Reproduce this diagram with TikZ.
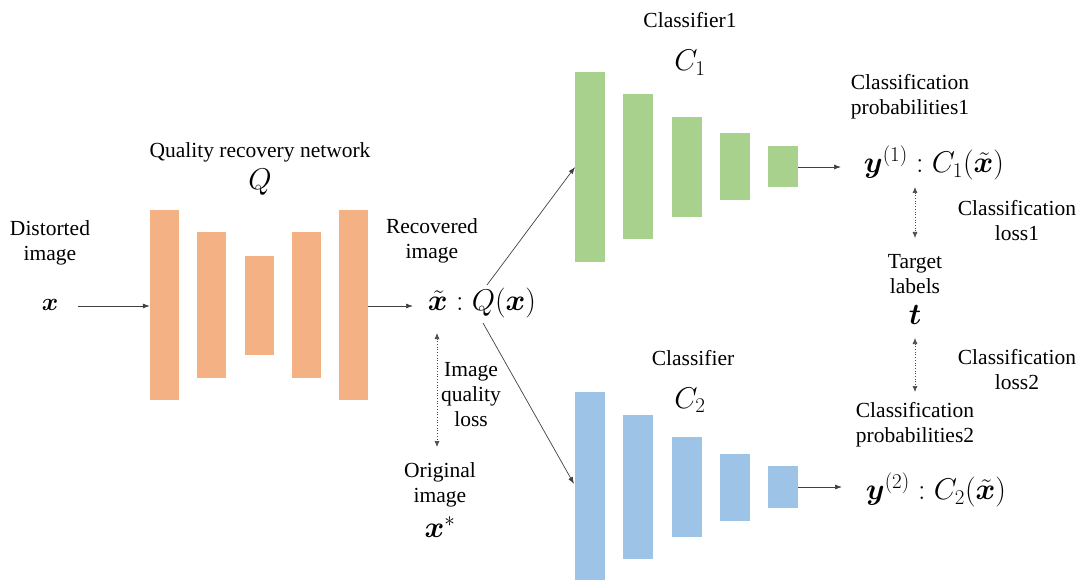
\RequirePackage{fix-cm}
\documentclass[tikz,border=0pt]{standalone}
\usepackage{amsmath}
\usepackage{bm}
\usepackage{fontspec}
\setmainfont{Liberation Serif}
\newfontfamily\tnr{Liberation Serif}
\usetikzlibrary{arrows.meta}
\definecolor{qorange}{HTML}{F4B183}
\definecolor{cgreen}{HTML}{A9D18E}
\definecolor{cblue}{HTML}{9DC3E6}
\tikzset{
  lbl/.style={align=center,inner sep=0pt,font=\tnr\fontsize{21.5}{25}\selectfont},
  mth/.style={inner sep=0pt,font=\fontsize{30}{32}\selectfont},
  qbar/.style={fill=qorange,draw=none,minimum width=29pt,inner sep=0pt},
  gbar/.style={fill=cgreen,draw=none,minimum width=30pt,inner sep=0pt},
  bbar/.style={fill=cblue,draw=none,minimum width=30pt,inner sep=0pt},
  arr/.style={-{Latex[length=7pt,width=5pt]},line width=0.7pt,draw=black!75},
  darr/.style={{Latex[length=6pt,width=5pt]}-{Latex[length=6pt,width=5pt]},line width=0.7pt,dotted,draw=black!70},
}
\begin{document}
\begin{tikzpicture}[x=1pt,y=-1pt]
\useasboundingbox (0,0) rectangle (1079,580);
% Quality recovery network bars
\node[qbar,minimum height=190pt] (q1) at (164.5,305) {};
\node[qbar,minimum height=145pt] (q2) at (211.5,305) {};
\node[qbar,minimum height=99pt]  (q3) at (259.5,305) {};
\node[qbar,minimum height=145pt] (q4) at (306.5,305) {};
\node[qbar,minimum height=190pt] (q5) at (353.5,305) {};
% Classifier 1 bars
\node[gbar,minimum height=190pt] (g1) at (590,167) {};
\node[gbar,minimum height=145pt] (g2) at (638,167) {};
\node[gbar,minimum height=100pt] (g3) at (686.5,167) {};
\node[gbar,minimum height=67pt]  (g4) at (735,167) {};
\node[gbar,minimum height=41pt]  (g5) at (783,167) {};
% Classifier 2 bars
\node[bbar,minimum height=188pt] (b1) at (590,486) {};
\node[bbar,minimum height=144pt] (b2) at (638,487) {};
\node[bbar,minimum height=100pt] (b3) at (686.5,487) {};
\node[bbar,minimum height=67pt]  (b4) at (735,487) {};
\node[bbar,minimum height=42pt]  (b5) at (783,487) {};
% Labels
\node[lbl] (dist) at (50,243) {Distorted\\image};
\node[mth,font=\fontsize{25}{27}\selectfont] (xin) at (50,305) {$\bm{x}$};
\node[lbl] (qrn) at (260,152) {Quality recovery network};
\node[mth] (qlab) at (260,182) {$Q$};
\node[lbl] (rec) at (432,241) {Recovered\\image};
\node[mth] (xt) at (482,303) {$\tilde{\bm{x}}:Q(\bm{x})$};
\node[lbl] (iql) at (471,395) {Image\\quality\\loss};
\node[lbl] (orig) at (440,485) {Original\\image};
\node[mth] (xs) at (440,527) {$\bm{x}^{*}$};
\node[lbl] (cl1) at (690,20) {Classifier1};
\node[mth] (c1lab) at (690,63) {$C_1$};
\node[lbl] (cl2) at (693,358) {Classifier};
\node[mth] (c2lab) at (690,400) {$C_2$};
\node[lbl] (cp1) at (910,97) {Classification\\probabilities1};
\node[mth] (y1) at (934,163) {$\bm{y}^{(1)}:C_1(\tilde{\bm{x}})$};
\node[lbl] (loss1) at (1017,221) {Classification\\loss1};
\node[lbl] (tl) at (915,274) {Target\\labels};
\node[mth] (t) at (915,315) {$\bm{t}$};
\node[lbl] (loss2) at (1017,370) {Classification\\loss2};
\node[lbl] (cp2) at (915,425) {Classification\\probabilities2};
\node[mth] (y2) at (936,490) {$\bm{y}^{(2)}:C_2(\tilde{\bm{x}})$};
% connector ends
\coordinate (xinE) at (78,306);
\coordinate (xtW) at (413,306);
\coordinate (xtU) at (487,285);
\coordinate (xtD) at (483,323);
\coordinate (xtB) at (437,333);
\coordinate (origT) at (437,447);
\coordinate (c1in) at (575,167);
\coordinate (c2in) at (574,484);
\coordinate (y1W) at (841,167);
\coordinate (y2W) at (842,487);
\coordinate (y1B) at (915,187);
\coordinate (tT) at (915,238);
\coordinate (tB) at (915,338);
\coordinate (cp2T) at (915,392);
% connectors
\draw[arr] (xinE) -- (xinE -| q1.west);
\draw[arr] (xinE -| q5.east) -- (xtW);
\draw[arr] (xtU) -- (c1in);
\draw[arr] (xtD) -- (c2in);
\draw[darr] (xtB) -- (origT);
\draw[arr] (g5.east) -- (y1W);
\draw[arr] (b5.east) -- (y2W);
\draw[darr] (y1B) -- (tT);
\draw[darr] (tB) -- (cp2T);
\end{tikzpicture}
\end{document}
